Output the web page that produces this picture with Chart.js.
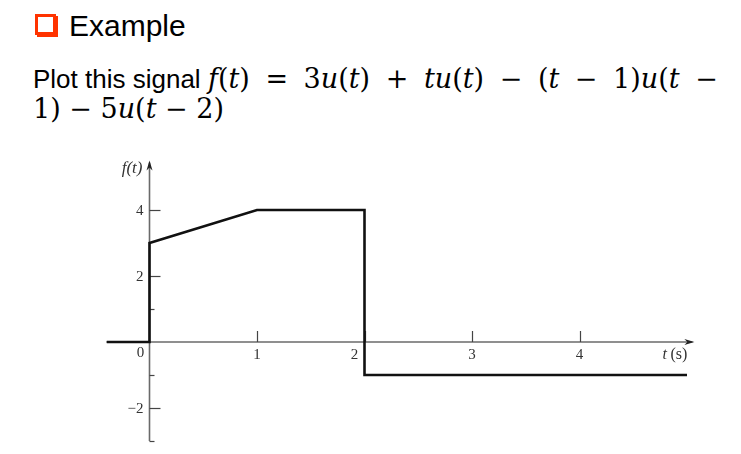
<!DOCTYPE html>
<html>
<head>
<meta charset="utf-8">
<script src="https://cdn.jsdelivr.net/npm/chart.js@4.4.1/dist/chart.umd.min.js"></script>
<style>
  body { margin: 0; background: #fff; width: 741px; height: 454px; overflow: hidden; position: relative;
         font-family: "Liberation Sans", Arial, sans-serif; color: #000; }
  .bullet { position: absolute; left: 35px; top: 14px; width: 15px; height: 15px;
            border: 3px solid #ff3300; box-shadow: 2px 2px 0 #ff3300; }
  .title { position: absolute; left: 69px; top: 8px; font-size: 30px; line-height: 36px; white-space: nowrap; }
  .task { position: absolute; left: 33px; font-size: 26px; line-height: 30px; white-space: nowrap; }
  .row2 { top: 64px; }
  .row3 { top: 94px; }
  .m { font-family: "DejaVu Serif", "Liberation Serif", serif; font-size: 27px; }
  .m i { font-style: italic; }
  .row2 .m { word-spacing: 7px; }
  #chart { position: absolute; left: 0; top: 0; }
</style>
</head>
<body>
<div class="bullet"></div>
<div class="title">Example</div>
<div class="task row2">Plot this signal <span class="m"><i>f</i>(<i>t</i>) = 3<i>u</i>(<i>t</i>) + <i>tu</i>(<i>t</i>) − (<i>t</i> − 1)<i>u</i>(<i>t</i> −</span></div>
<div class="task row3"><span class="m">1) − 5<i>u</i>(<i>t</i> − 2)</span></div>
<canvas id="chart" width="741" height="454"></canvas>
<script>
// signal f(t) = 3u(t) + tu(t) - (t-1)u(t-1) - 5u(t-2)
const tValues = [-0.4, 0, 0, 1, 2, 2, 5];
const fValues = [0, 0, 3, 4, 4, -1, -1];

const xTicks = [1, 2, 3, 4];
const xTickLabels = ['1', '2', '3', '4'];
const yMajorTicks = [4, 2, -2];
const yMajorLabels = ['4', '2', '−2'];
const yMinorTicks = [1, -1, -3];

const xMin = -0.4, xMax = 5.1;
const yMin = -3, yMax = 5.5;

const axisColor = '#6a6a6a';
const labelColor = '#333';
const serif = '"Liberation Serif", "Times New Roman", serif';

function arrow(ctx, tipX, tipY, dir) {
    // small filled arrowhead, dir: 'right' or 'up'
    ctx.beginPath();
    if (dir === 'right') {
        ctx.moveTo(tipX, tipY);
        ctx.lineTo(tipX - 10, tipY - 3);
        ctx.lineTo(tipX - 7, tipY);
        ctx.lineTo(tipX - 10, tipY + 3);
    } else {
        ctx.moveTo(tipX, tipY);
        ctx.lineTo(tipX - 3, tipY + 10);
        ctx.lineTo(tipX, tipY + 7);
        ctx.lineTo(tipX + 3, tipY + 10);
    }
    ctx.closePath();
    ctx.fill();
}

const axesPlugin = {
    id: 'axes',
    beforeDatasetsDraw(chart) {
        const { ctx, scales: { x, y } } = chart;
        const x0 = x.getPixelForValue(0);
        const y0 = y.getPixelForValue(0);
        ctx.save();
        ctx.strokeStyle = axisColor;
        ctx.lineWidth = 1.6;

        // x axis
        ctx.beginPath();
        ctx.moveTo(x.getPixelForValue(xMin), y0);
        ctx.lineTo(x.getPixelForValue(5.05), y0);
        ctx.stroke();

        // y axis
        ctx.beginPath();
        ctx.moveTo(x0, y.getPixelForValue(yMin));
        ctx.lineTo(x0, y.getPixelForValue(yMax) + 2);
        ctx.stroke();

        ctx.strokeStyle = '#444';
        ctx.lineWidth = 1.2;
        // x ticks, pointing up
        xTicks.forEach(v => {
            const px = Math.round(x.getPixelForValue(v)) + 0.5;
            ctx.beginPath();
            ctx.moveTo(px, y0);
            ctx.lineTo(px, y0 - 11);
            ctx.stroke();
        });
        // y ticks, pointing right
        yMajorTicks.forEach(v => {
            const py = Math.round(y.getPixelForValue(v)) + 0.5;
            ctx.beginPath();
            ctx.moveTo(x0, py);
            ctx.lineTo(x0 + 11, py);
            ctx.stroke();
        });
        yMinorTicks.forEach(v => {
            const py = Math.round(y.getPixelForValue(v)) + 0.5;
            ctx.beginPath();
            ctx.moveTo(x0, py);
            ctx.lineTo(x0 + 5, py);
            ctx.stroke();
        });
        ctx.restore();
    },
    afterDraw(chart) {
        const { ctx, scales: { x, y } } = chart;
        const x0 = x.getPixelForValue(0);
        const y0 = y.getPixelForValue(0);
        ctx.save();
        ctx.fillStyle = '#222';
        arrow(ctx, x.getPixelForValue(5.05) + 2, y0, 'right');
        arrow(ctx, x0, y.getPixelForValue(yMax), 'up');

        ctx.fillStyle = labelColor;
        ctx.font = '15px ' + serif;
        ctx.textBaseline = 'middle';

        // x labels
        ctx.textAlign = 'center';
        xTicks.forEach((v, i) => {
            let px = x.getPixelForValue(v);
            if (v === 2) px -= 10;
            ctx.fillText(xTickLabels[i], px, y0 + 13);
        });
        ctx.fillText('0', x0 - 9, y0 + 11);

        // y labels
        ctx.textAlign = 'right';
        yMajorTicks.forEach((v, i) => {
            ctx.fillText(yMajorLabels[i], x0 - 6, y.getPixelForValue(v) + 1);
        });

        // axis titles
        ctx.font = 'italic 17px ' + serif;
        ctx.textAlign = 'right';
        ctx.fillText('f(t)', x0 - 7, y.getPixelForValue(yMax) + 8);

        ctx.textAlign = 'left';
        ctx.font = 'italic 16px ' + serif;
        const tx = x.getPixelForValue(5.05) - 30;
        ctx.fillText('t', tx, y0 + 13);
        ctx.font = '16px ' + serif;
        ctx.fillText('(s)', tx + 8, y0 + 13);
        ctx.restore();
    }
};

new Chart(document.getElementById('chart'), {
    type: 'line',
    data: {
        datasets: [{
            data: tValues.map((t, i) => ({ x: t, y: fValues[i] })),
            borderColor: '#111',
            borderWidth: 2.6,
            pointRadius: 0,
            tension: 0,
            fill: false
        }]
    },
    options: {
        responsive: false,
        animation: false,
        layout: { padding: { left: 106.5, right: 43.25, top: 160.5, bottom: 13 } },
        plugins: { legend: { display: false }, tooltip: { enabled: false } },
        scales: {
            x: { type: 'linear', min: xMin, max: xMax, display: false },
            y: { type: 'linear', min: yMin, max: yMax, display: false }
        }
    },
    plugins: [axesPlugin]
});
</script>
</body>
</html>
